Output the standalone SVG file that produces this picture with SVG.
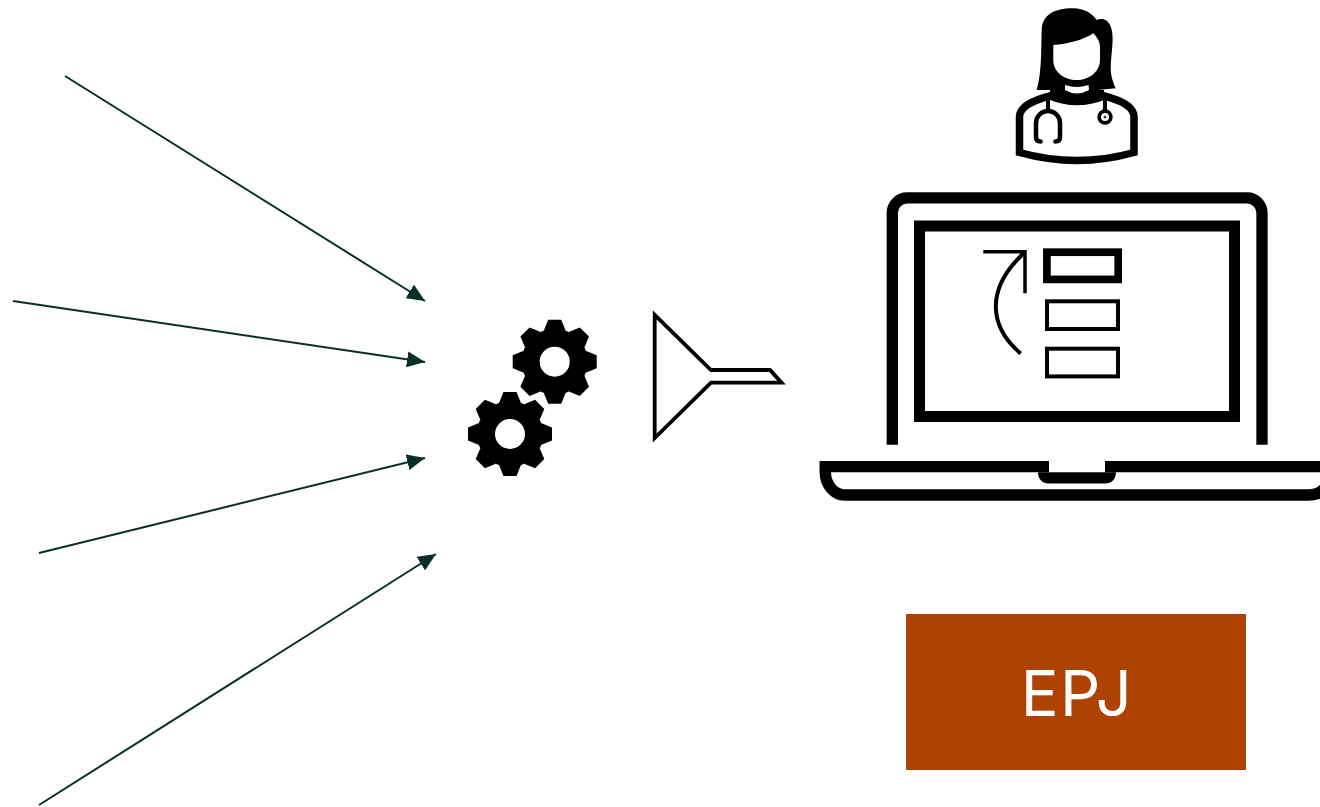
<svg xmlns="http://www.w3.org/2000/svg" xmlns:xlink="http://www.w3.org/1999/xlink" width="1320" height="807" viewBox="0 0 1320 807">
<style>
.conn{stroke:#0a2e28;stroke-width:2;fill:none;marker-end:url(#ah)}
.ol{fill:none;stroke:#000;stroke-linejoin:miter}
.blk{fill:#000}
.wht{fill:#fff}
.label{font-family:Inter,"Liberation Sans",Arial,sans-serif;font-size:63px;font-weight:400;letter-spacing:1.500px;fill:#fff;text-anchor:middle}
</style>
<defs>
<marker id="ah" viewBox="0 0 9 8" refX="9" refY="4" markerWidth="9" markerHeight="8" orient="auto"><path d="M0 0L9 4L0 8Z" fill="#0a2e28"/></marker>
<g id="gear">
<circle r="33" class="blk"/>
<path id="t" class="blk" d="M-6.500-42H6.500L11-31H-11Z"/>
<use xlink:href="#t" href="#t" transform="rotate(45)"/>
<use xlink:href="#t" href="#t" transform="rotate(90)"/>
<use xlink:href="#t" href="#t" transform="rotate(135)"/>
<use xlink:href="#t" href="#t" transform="rotate(180)"/>
<use xlink:href="#t" href="#t" transform="rotate(225)"/>
<use xlink:href="#t" href="#t" transform="rotate(270)"/>
<use xlink:href="#t" href="#t" transform="rotate(315)"/>
<circle r="15" class="wht"/>
</g>
</defs>
<rect width="1320" height="807" fill="#fff"/>
<g id="connectors">
<line class="conn" x1="65" y1="76" x2="425" y2="301"/>
<line class="conn" x1="13" y1="301" x2="425" y2="362"/>
<line class="conn" x1="39" y1="553" x2="425" y2="458"/>
<line class="conn" x1="39" y1="805" x2="436" y2="554"/>
</g>
<g id="gears">
<use xlink:href="#gear" href="#gear" transform="translate(554.700 361.700)"/>
<use xlink:href="#gear" href="#gear" transform="translate(510 434)"/>
</g>
<g id="funnel">
<path class="ol" stroke-width="3.800" d="M654.700 314.800L711 370H770L781.500 382.700H711L654.700 438Z"/>
</g>
<g id="doctor">
<path class="wht" d="M1019.500 152.500V117C1019.500 105 1038 99 1050 96Q1077 107 1104 96C1116 99 1134 105 1134 117V152.500Q1077 168.500 1019.500 152.500Z"/>
<path class="ol" stroke-width="7.500" stroke-linejoin="round" d="M1019.500 152.500V117C1019.500 105 1038 99 1050 96Q1077 107 1104 96C1116 99 1134 105 1134 117V152.500Q1077 168.500 1019.500 152.500Z"/>
<path class="blk" d="M1073.300 8.300C1056 8 1042 14 1041.700 30C1041 48 1042 72 1036.700 90L1056 90H1098L1115.700 88.300C1110 75 1110 70 1112 50C1114 34 1112 20 1102 19C1098 18.500 1096.700 20 1096.700 20C1092 13 1084 8.500 1073.300 8.300Z"/>
<path class="blk" d="M1050 90H1104V100H1050Z"/>
<path class="wht" d="M1053.300 45C1068 44 1083 40 1093.300 33.300C1097 37 1100 42 1100 46.700V60C1100 72 1089 80 1076.700 80C1064 80 1053.300 72 1053.300 60Z"/>
<path class="wht" d="M1065 85Q1077 89 1088.500 85L1089 90Q1077 97 1065 90Z"/>
<path class="ol" stroke-width="4" d="M1048 97V110M1105 97V110"/>
<path class="ol" stroke-width="4.500" stroke-linecap="round" d="M1040.500 141.500Q1036 141.500 1036 137V123A12 12 0 0 1 1060 123V137Q1060 141.500 1055.500 141.500"/>
<circle cx="1105" cy="117" r="7.700" class="blk"/>
<circle cx="1105" cy="117" r="4" class="wht"/>
<circle cx="1105" cy="117" r="1.500" fill="#444"/>
</g>
<g id="laptop">
<path class="ol" stroke-width="11.300" d="M892.300 444.700V213A15 15 0 0 1 907.600 197.900H1246.600A15 15 0 0 1 1262 213V444.700"/>
<rect class="ol" x="919.500" y="226" width="315" height="190.500" stroke-width="11"/>
<path class="ol" stroke-width="11.500" d="M825.300 461V472A20 23 0 0 0 845 495H1308Q1329 495 1329 472"/>
<path class="blk" d="M825 461H1049V472.300H825ZM1105 461H1320V472.300H1105Z"/>
<path class="blk" d="M1038 472.300H1116C1116 479 1112 483.500 1105 483.500H1049C1042 483.500 1038 479 1038 472.300Z"/>
</g>
<g id="form">
<rect class="ol" x="1046.900" y="252.200" width="71.300" height="27.200" stroke-width="7.700"/>
<rect class="ol" x="1047" y="301.300" width="71" height="27.700" stroke-width="4"/>
<rect class="ol" x="1047" y="348.700" width="71" height="27.700" stroke-width="4"/>
<path class="ol" stroke-width="3.500" d="M983.300 251.700H1025V293.300"/>
<path class="ol" stroke-width="4" d="M1024 253C986 288 988 326 1020.700 353.500"/>
</g>
<g id="epj">
<rect x="906" y="614" width="340" height="156" fill="#ae4200"/>
<text class="label" x="1077" y="716">EPJ</text>
</g>
</svg>
